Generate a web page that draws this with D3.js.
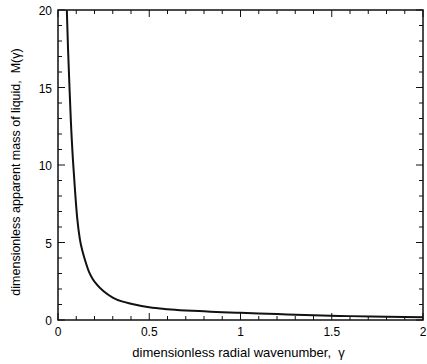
<!DOCTYPE html>
<html>
<head>
<meta charset="utf-8">
<script src="https://cdn.jsdelivr.net/npm/d3@7"></script>
<style>
  body { margin: 0; background: #fff; }
  svg { font-family: "Liberation Sans", Arial, sans-serif; }
</style>
</head>
<body>
<div id="chart"></div>
<script>
const gamma = [0.047, 0.055, 0.063, 0.071, 0.082, 0.093, 0.105, 0.12, 0.135, 0.148, 0.17, 0.19, 0.212, 0.25, 0.3, 0.35, 0.4, 0.5, 0.6, 0.7, 0.8, 0.9, 1.0, 1.2, 1.4, 1.6, 1.8, 2.0]
const massM = [20.5, 17.5, 15, 12.7, 10.3, 8.4, 6.6, 5.2, 4.4, 3.87, 3.1, 2.65, 2.3, 1.85, 1.45, 1.2, 1.05, 0.82, 0.7, 0.62, 0.56, 0.5, 0.46, 0.38, 0.3, 0.25, 0.21, 0.17]
const xTicks = [0, 0.5, 1, 1.5, 2]
const yTicks = [0, 5, 10, 15, 20]

const W = 427, H = 364
const margin = {top: 10, right: 4, bottom: 44, left: 58}
const width = W - margin.left - margin.right
const height = H - margin.top - margin.bottom

const x = d3.scaleLinear().domain([0, 2]).range([0, width])
const y = d3.scaleLinear().domain([0, 20]).range([height, 0])

const svg = d3.select("#chart").append("svg")
    .attr("width", W)
    .attr("height", H)
  .append("g")
    .attr("transform", `translate(${margin.left}, ${margin.top})`)

svg.append("clipPath").attr("id", "clip")
  .append("rect").attr("width", width).attr("height", height)

const minorX = d3.range(0, 2.0001, 0.1)
const minorY = d3.range(0, 20.0001, 1)
const isMajor = (v, step) => Math.abs(v / step - Math.round(v / step)) < 1e-6

// ticks pointing inward on all four sides
const tickG = svg.append("g").attr("stroke", "#111").attr("stroke-width", 1)
minorX.forEach(v => {
  const len = isMajor(v, 0.5) ? 7 : 4
  tickG.append("line").attr("x1", x(v)).attr("x2", x(v)).attr("y1", height).attr("y2", height - len)
  tickG.append("line").attr("x1", x(v)).attr("x2", x(v)).attr("y1", 0).attr("y2", len)
})
minorY.forEach(v => {
  const len = isMajor(v, 5) ? 7 : 4
  tickG.append("line").attr("x1", 0).attr("x2", len).attr("y1", y(v)).attr("y2", y(v))
  tickG.append("line").attr("x1", width).attr("x2", width - len).attr("y1", y(v)).attr("y2", y(v))
})

svg.append("rect")
    .attr("width", width)
    .attr("height", height)
    .attr("fill", "none")
    .attr("stroke", "#111")
    .attr("stroke-width", 1.5)

svg.selectAll(".xl").data(xTicks).join("text")
    .attr("x", d => x(d))
    .attr("y", height + 16)
    .attr("text-anchor", "middle")
    .attr("font-size", 12)
    .text(d => d)

svg.selectAll(".yl").data(yTicks).join("text")
    .attr("x", -6)
    .attr("y", d => y(d) + 5)
    .attr("text-anchor", "end")
    .attr("font-size", 12)
    .text(d => d)

svg.append("path")
    .datum(gamma.map((g, i) => [g, massM[i]]))
    .attr("clip-path", "url(#clip)")
    .attr("fill", "none")
    .attr("stroke", "#111")
    .attr("stroke-width", 2)
    .attr("d", d3.line()
        .x(d => x(d[0]))
        .y(d => y(d[1]))
        .curve(d3.curveMonotoneX))

svg.append("text")
    .attr("x", width / 2 - 2)
    .attr("y", height + 37)
    .attr("text-anchor", "middle")
    .attr("font-size", 13)
    .text("dimensionless radial wavenumber,\u00a0 γ")

svg.append("text")
    .attr("transform", `translate(-38, ${height / 2 + 7}) rotate(-90)`)
    .attr("text-anchor", "middle")
    .attr("font-size", 12.5)
    .text("dimensionless apparent mass of liquid,\u00a0 M(γ)")
</script>
</body>
</html>
